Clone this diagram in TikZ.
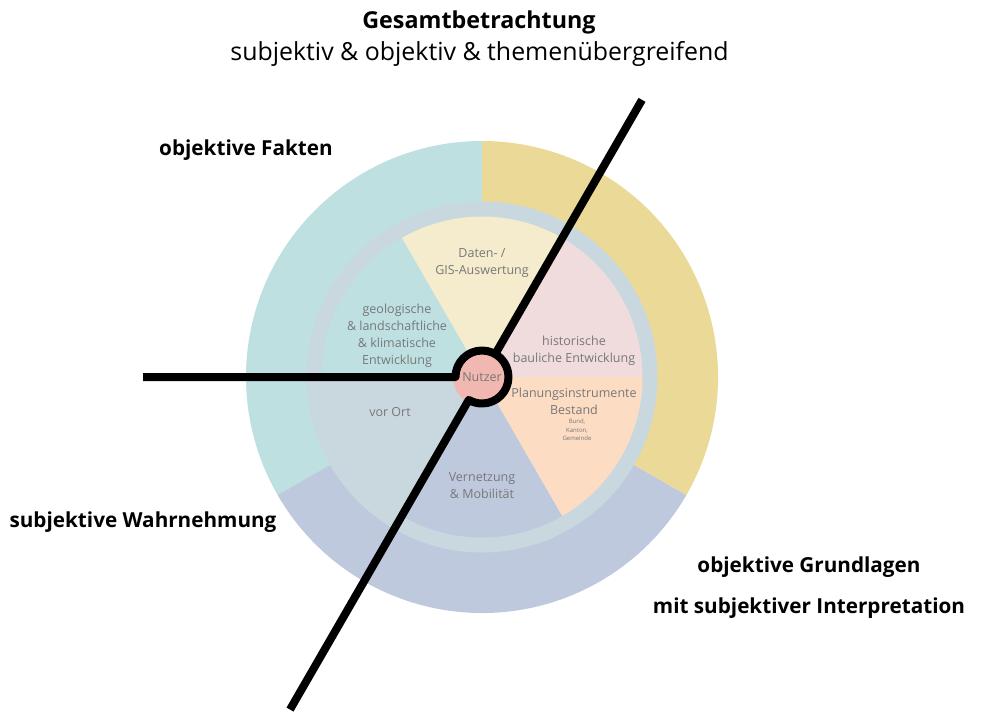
\documentclass[tikz,border=0pt]{standalone}
\usepackage{fontspec}
\setmainfont{Open Sans}
\usetikzlibrary{positioning}

\definecolor{fakten}{HTML}{BEE0E1}
\definecolor{grundlagen}{HTML}{EBD998}
\definecolor{wahrnehmung}{HTML}{BFC9DE}
\definecolor{trenner}{HTML}{C9D8DF}
\definecolor{daten}{HTML}{F5EBCD}
\definecolor{vorort}{HTML}{C9D7DE}
\definecolor{vernetzung}{HTML}{BFC9DE}
\definecolor{planung}{HTML}{FDDCC4}
\definecolor{historisch}{HTML}{F0DCDC}
\definecolor{nutzer}{HTML}{F0B8B0}
\definecolor{grautext}{HTML}{787878}

\tikzset{
  haupt/.style={font=\fontsize{20.7}{24}\selectfont\bfseries, anchor=base, inner sep=0pt},
  feld/.style={font=\fontsize{12.5}{17}\selectfont, text=grautext, align=center, inner sep=0pt},
  klein/.style={font=\fontsize{6}{8.5}\selectfont, text=grautext, align=center, inner sep=0pt},
  balken/.style={line width=8pt, black, line join=round},
}

\begin{document}
\begin{tikzpicture}[x=1pt, y=1pt]
  \useasboundingbox (0,0) rectangle (988,-715);
  \coordinate (ctr) at (482,-377);

  % outer ring
  \foreach \von/\bis/\farbe in {90/210/fakten, 210/330/wahrnehmung, -30/90/grundlagen}
    \fill[\farbe] (ctr) -- ([shift={(\von:236)}]ctr) arc[start angle=\von, end angle=\bis, radius=236] -- cycle;
  \fill[trenner] (ctr) circle[radius=175.5];

  % inner pie
  \foreach \von/\bis/\farbe in {0/60/historisch, 60/120/daten, 120/180/fakten,
                               180/240/vorort, 240/300/vernetzung, 300/360/planung}
    \fill[\farbe] (ctr) -- ([shift={(\von:160.5)}]ctr) arc[start angle=\von, end angle=\bis, radius=160.5] -- cycle;

  \fill[nutzer] (ctr) circle[radius=29];

  % black lines
  \coordinate (w_end) at (143,-377);
  \coordinate (sw_end) at ([shift={(240:384)}]ctr);
  \coordinate (ne_end) at ([shift={(60:320)}]ctr);
  \draw[balken] (w_end) -- ([shift={(180:26.5)}]ctr) arc[start angle=180, end angle=-120, radius=26.5] -- (sw_end);
  \draw[balken] (ne_end) -- ([shift={(60:26.5)}]ctr);

  % texts
  \node[haupt, font=\fontsize{23.3}{27}\selectfont\bfseries] (titel) at (479,-28) {Gesamtbetrachtung};
  \node[haupt, font=\fontsize{24.9}{29}\selectfont] (untertitel) at (479.5,-60) {subjektiv \& objektiv \& themenübergreifend};
  \node[haupt] (fakten_lbl) at (246,-155) {objektive Fakten};
  \node[haupt] (wahrn_lbl) at (143,-527) {subjektive Wahrnehmung};
  \node[haupt] (grundl_lbl) at (809,-572) {objektive Grundlagen};
  \node[haupt] (interpr_lbl) at (809,-613) {mit subjektiver Interpretation};

  \node[feld] (nutzer_lbl) at (ctr) {Nutzer};
  \node[feld] (daten_lbl) at (482,-263.5) {Daten- /\\GIS-Auswertung};
  \node[feld] (geo_lbl) at (397,-336) {geologische\\\& landschaftliche\\\& klimatische\\Entwicklung};
  \node[feld] (hist_lbl) at (574,-351) {historische\\bauliche Entwicklung};
  \node[feld] (plan_lbl) at (574,-401) {Planungsinstrumente\\Bestand};
  \node[klein, below=4.5pt of plan_lbl.south, xshift=3pt] (ebenen_lbl) {Bund,\\Kanton,\\Gemeinde};
  \node[feld] (ort_lbl) at (390,-412) {vor Ort};
  \node[feld] (netz_lbl) at (482,-485.5) {Vernetzung\\\& Mobilität};
\end{tikzpicture}
\end{document}
